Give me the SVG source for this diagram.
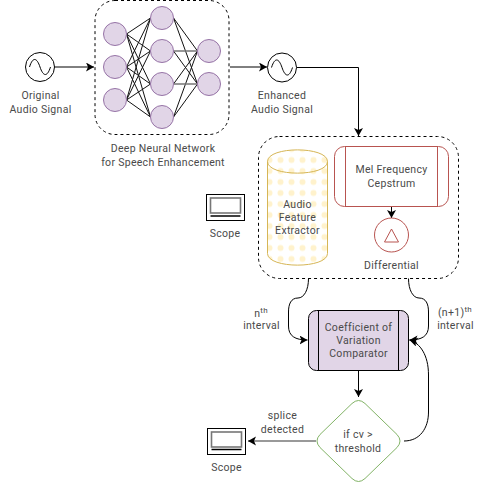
<svg xmlns="http://www.w3.org/2000/svg" width="485" height="486" viewBox="0 0 485 486">
<style>
text{font-family:"Roboto","Liberation Sans",sans-serif;font-size:10.5px;fill:#4a4a4a;text-anchor:middle;letter-spacing:.3px}
.n{fill:#e1d5e7;stroke:#9673a6;stroke-width:1}
.e{stroke:#111;stroke-width:1;fill:none}
.eg{stroke:#777;stroke-width:1.6;fill:none}
.c{stroke:#000;stroke-width:1;fill:none}
.d{fill:#fff;stroke:#000;stroke-width:1;stroke-dasharray:3 3}
.s{fill:#fff;stroke:#000;stroke-width:1}
.si{fill:none;stroke:#777;stroke-width:1.6}
</style>
<defs>
<marker id="a" markerUnits="userSpaceOnUse" markerWidth="10" markerHeight="10" refX="8" refY="4.5" orient="auto"><path d="M0 0L8 4.5L0 9L2 4.5Z" fill="#000"/></marker>
<pattern id="dots" width="11" height="11" patternUnits="userSpaceOnUse" x="275" y="154.500"><circle cx="5.500" cy="5.500" r="3" fill="#fff2cc"/></pattern>
</defs>
<g id="dnn-box"><rect class="d" x="95" y="0.500" width="134" height="134" rx="20"/></g>
<g id="enhance-box"><rect class="d" x="258.500" y="136.500" width="200" height="142" rx="21"/></g>
<g id="connectors">
<g class="e">
<path d="M126.500 34L150.500 18M126.500 34L150.500 51M126.500 34L150.500 84M126.500 34L150.500 117"/>
<path d="M126.500 67L150.500 18M126.500 67L150.500 51M126.500 67L150.500 84M126.500 67L150.500 117"/>
<path d="M126.500 100L150.500 18M126.500 100L150.500 51M126.500 100L150.500 84M126.500 100L150.500 117"/>
<path d="M173.500 18L197.500 51M173.500 18L197.500 84M173.500 51L197.500 84M173.500 84L197.500 51M173.500 117L197.500 51M173.500 117L197.500 84"/>
</g>
<path class="eg" d="M173.500 51H197.500M173.500 84H197.500"/>
<path class="c" d="M54.500 67H94" marker-end="url(#a)"/>
<path class="c" d="M230 67H267" marker-end="url(#a)"/>
<path class="c" d="M296.500 67.500H358.500V136" marker-end="url(#a)"/>
<path class="c" d="M391.500 206.500V218" marker-end="url(#a)"/>
<path class="c" d="M308.500 278.500C308.500 290 304 298 298 298C291 298 288.500 304 288.500 312V326C288.500 336 295 340 307.500 340" marker-end="url(#a)"/>
<path class="c" d="M408.500 278.500C408.500 290 413 298 419 298C426 298 428.500 304 428.500 312V326C428.500 336 422 340 409.500 340" marker-end="url(#a)"/>
<path class="c" d="M404 441C420 441 428.500 428 428.500 412V375C428.500 355 420 343 409.500 340" marker-end="url(#a)"/>
<path class="c" d="M358.500 370.500V397" marker-end="url(#a)"/>
<path d="M316 441H248" stroke="#777" stroke-width="1.400" fill="none" marker-end="url(#a)"/>
</g>
<g id="source"><circle cx="40" cy="67" r="14.500" fill="#fff" stroke="#000"/><path d="M29.500 67C33 56 37 58 40 67C43 76 47 78 50.500 67" fill="none" stroke="#000"/></g>
<g id="neurons">
<circle class="n" cx="115" cy="34" r="11.500"/><circle class="n" cx="115" cy="67" r="11.500"/><circle class="n" cx="115" cy="100" r="11.500"/>
<circle class="n" cx="162" cy="18" r="11.500"/><circle class="n" cx="162" cy="51" r="11.500"/><circle class="n" cx="162" cy="84" r="11.500"/><circle class="n" cx="162" cy="117" r="11.500"/>
<circle class="n" cx="209" cy="51" r="11.500"/><circle class="n" cx="209" cy="84" r="11.500"/>
</g>
<g id="enhanced"><circle cx="282" cy="67.500" r="14.500" fill="#fff" stroke="#000"/><path d="M271.500 67.500C275 56.500 279 58.500 282 67.500C285 76.500 289 78.500 292.500 67.500" fill="none" stroke="#000"/></g>
<g id="cylinder"><path d="M267.500 161.500C267.500 146 327.500 146 327.500 161.500V253.500C327.500 269 267.500 269 267.500 253.500Z" fill="#fff"/><path d="M267.500 161.500C267.500 146 327.500 146 327.500 161.500V253.500C327.500 269 267.500 269 267.500 253.500Z" fill="url(#dots)" stroke="#d6b656"/><path d="M267.500 161.500C267.500 177 327.500 177 327.500 161.500" fill="none" stroke="#d6b656"/></g>
<g id="mel"><rect x="334.500" y="146.500" width="114" height="60" rx="10" fill="#fff" stroke="#b85450"/><path d="M345.500 146.500V206.500M437.500 146.500V206.500" stroke="#b85450" fill="none"/></g>
<g id="differential"><circle cx="391.500" cy="235" r="17" fill="#fff" stroke="#b85450"/><path d="M391.500 229L398.500 242H384.500Z" fill="none" stroke="#b85450"/></g>
<g id="comparator"><rect x="308.500" y="310.500" width="100" height="60" rx="8" fill="#e1d5e7" stroke="#000"/><path d="M318.500 310.500V370.500M398.500 310.500V370.500" stroke="#000" fill="none"/></g>
<g id="decision"><path d="M352 403.500Q358.500 397.500 365 403.500L397 434.500Q403 441 397 447.500L365 478.500Q358.500 484.500 352 478.500L320 447.500Q314 441 320 434.500Z" fill="#fff" stroke="#82b366"/></g>
<g id="scope-top"><rect class="s" x="206.500" y="194.500" width="38" height="26"/><rect class="si" x="210.500" y="198" width="30" height="15"/><path d="M210.500 216H240.500" stroke="#000" stroke-width="1.500"/></g>
<g id="scope-bottom"><rect class="s" x="207.500" y="428.500" width="38" height="26"/><rect class="si" x="211.500" y="432" width="30" height="15"/><path d="M211.500 449.500H241.500" stroke="#000" stroke-width="1.500"/></g>
<g id="labels">
<text x="40.500" y="99">Original</text><text x="40.500" y="113">Audio Signal</text>
<text x="163" y="152">Deep Neural Network</text><text x="163" y="166">for Speech Enhancement</text>
<text x="282" y="99">Enhanced</text><text x="282" y="113">Audio Signal</text>
<text x="391.500" y="173">Mel Frequency</text><text x="391.500" y="187">Cepstrum</text>
<text x="297.500" y="208">Audio</text><text x="297.500" y="221">Feature</text><text x="297.500" y="234">Extractor</text>
<text x="391.500" y="269">Differential</text>
<text x="225" y="237">Scope</text>
<text x="261" y="317">n<tspan dy="-4" font-size="8">th</tspan></text><text x="261.500" y="329">interval</text>
<text x="455" y="316">(n+1)<tspan dy="-4" font-size="8">th</tspan></text><text x="455.500" y="329">interval</text>
<text x="358.500" y="331">Coefficient of</text><text x="358.500" y="344">Variation</text><text x="358.500" y="357">Comparator</text>
<text x="282.500" y="419">splice</text><text x="282.500" y="433">detected</text>
<text x="358" y="438">if cv &gt;</text><text x="358" y="452">threshold</text>
<text x="226.500" y="471">Scope</text>
</g>
</svg>
